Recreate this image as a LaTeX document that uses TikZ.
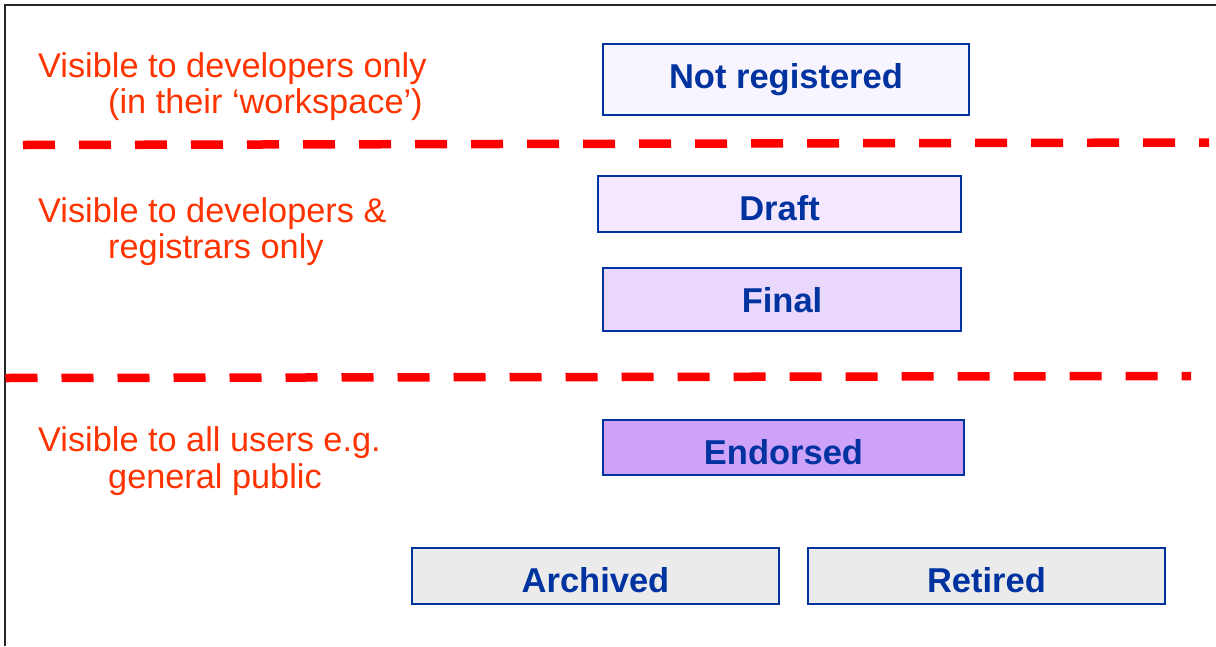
\documentclass[tikz,border=0pt]{standalone}
\usepackage{fontspec}
\setmainfont{Liberation Sans}
\definecolor{stateblue}{RGB}{0,51,160}
\definecolor{zonered}{RGB}{255,51,0}
\definecolor{divred}{RGB}{255,0,0}
\definecolor{fillnreg}{RGB}{249,245,255}
\definecolor{filldraft}{RGB}{243,232,255}
\definecolor{fillfinal}{RGB}{233,216,252}
\definecolor{fillendorsed}{RGB}{207,162,250}
\definecolor{fillold}{RGB}{235,235,235}
\tikzset{
  statebox/.style={draw=stateblue, line width=1.8pt, text=stateblue,
    font=\fontsize{34.5}{40}\selectfont\bfseries, inner sep=0pt,
    text height=33pt, text depth=0pt},
  zonelabel/.style={text=zonered, font=\fontsize{34.3}{40}\selectfont,
    inner sep=0pt, anchor=base west},
  divider/.style={divred, line width=8.5pt, dash pattern=on 32pt off 24pt},
  frameline/.style={black!85, line width=2pt}
}
\begin{document}
\begin{tikzpicture}[x=1pt, y=-1pt]
\useasboundingbox (0,0) rectangle (1216,646);
% frame: left and top edges only
\coordinate (fbl) at (4.5,646);
\coordinate (ftl) at (4.5,5);
\coordinate (ftr) at (1216,5);
\draw[frameline] (fbl) -- (ftl) -- (ftr);

% zone dividers
\coordinate (d1a) at (23,145);
\coordinate (d1b) at (1209,142.5);
\coordinate (d2a) at (5.5,378);
\coordinate (d2b) at (1191,376);
\draw[divider] (d1a) -- (d1b);
\draw[divider] (d2a) -- (d2b);

% zone descriptions
\node[zonelabel] (z1a) at (38,77) {Visible to developers only};
\node[zonelabel] (z1b) at (108,113) {(in their ‘workspace’)};
\node[zonelabel] (z2a) at (38,222) {Visible to developers \&};
\node[zonelabel] (z2b) at (108,258) {registrars only};
\node[zonelabel] (z3a) at (38,451) {Visible to all users e.g.};
\node[zonelabel] (z3b) at (108,488) {general public};

% lifecycle states (text height sets the baseline inside each box)
\node[statebox, fill=fillnreg, text height=17pt, minimum width=366pt, minimum height=71pt] (nreg) at (786,79.5) {Not registered};
\node[statebox, fill=filldraft, minimum width=363pt, minimum height=56pt] (draft) at (779.5,204) {Draft};
\node[statebox, fill=fillfinal, text height=25pt, minimum width=358pt, minimum height=63pt] (final) at (782,299.5) {Final};
\node[statebox, fill=fillendorsed, minimum width=361pt, minimum height=55pt] (endorsed) at (783.5,447.5) {Endorsed};
\node[statebox, fill=fillold, minimum width=367pt, minimum height=56pt] (archived) at (595.5,576) {Archived};
\node[statebox, fill=fillold, minimum width=357pt, minimum height=56pt] (retired) at (986.5,576) {Retired};
\end{tikzpicture}
\end{document}
